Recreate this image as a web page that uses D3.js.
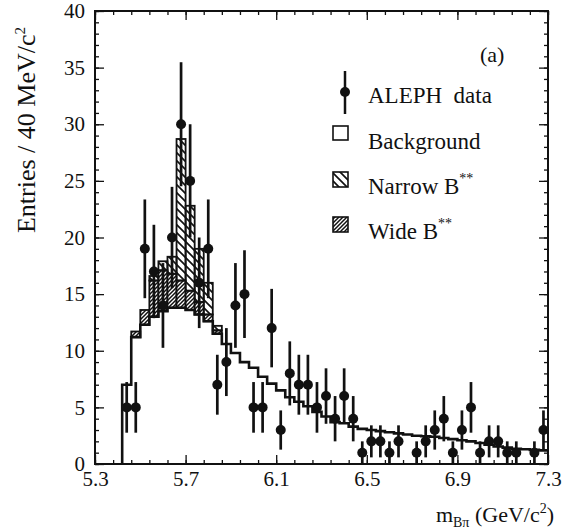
<!DOCTYPE html>
<html><head><meta charset="utf-8">
<script src="https://cdn.jsdelivr.net/npm/d3@7"></script>
<style>body{margin:0;background:#fff}text{font-family:"Liberation Serif","Times New Roman",serif;fill:#111}</style>
</head><body><svg id="c" width="564" height="531"></svg>
<script>
// ---- data (40 MeV bins, lower edges) ----
const binLow = [5.42,5.46,5.50,5.54,5.58,5.62,5.66,5.70,5.74,5.78,5.82,5.86,5.90,5.94,5.98,6.02,6.06,6.10,6.14,6.18,6.22,6.26,6.30,6.34,6.38,6.42,6.46,6.50,6.54,6.58,6.62,6.66,6.70,6.74,6.78,6.82,6.86,6.90,6.94,6.98,7.02,7.06,7.10,7.14,7.18,7.22,7.26];
const binWidth = 0.04;
const alephData = [5,5,19,17,14,20,30,25,16,19,7,9,14,15,5,5,12,3,8,7,7,5,6,4,6,4,1,2,2,1,2,null,1,2,3,4,1,3,5,1,2,2,1,1,null,1,3];
const background = [7.0,11.2,12.3,13.0,13.5,13.8,13.8,13.6,13.2,12.6,11.5,10.6,9.8,9.0,8.5,7.7,7.1,6.5,5.9,5.5,5.1,4.6,4.2,3.7,3.6,3.3,3.1,3.0,2.9,2.8,2.7,2.6,2.5,2.45,2.4,2.3,2.2,2.1,2.0,1.85,1.7,1.55,1.45,1.35,1.3,1.25,1.2];
const wideB = [0,0.5,1.3,3.2,3.6,3.0,2.4,1.7,1.1,0.6,0.3,0,0,0,0,0,0,0,0,0,0,0,0,0,0,0,0,0,0,0,0,0,0,0,0,0,0,0,0,0,0,0,0,0,0,0,0];
const narrowB = [0,0,0,0.4,0.8,1.5,12.5,7.5,4.7,2.8,0.4,0,0,0,0,0,0,0,0,0,0,0,0,0,0,0,0,0,0,0,0,0,0,0,0,0,0,0,0,0,0,0,0,0,0,0,0];
const xTickValues = [5.3,5.7,6.1,6.5,6.9,7.3];
const yTickValues = [0,5,10,15,20,25,30,35,40];

const svg = d3.select("#c");
const x = d3.scaleLinear().domain([5.3,7.3]).range([95,548]);
const y = d3.scaleLinear().domain([0,40]).range([464,11]);

// patterns
const defs = svg.append("defs");
const pn = defs.append("pattern").attr("id","narrow").attr("patternUnits","userSpaceOnUse").attr("width",8).attr("height",8);
pn.append("path").attr("d","M0,0L8,8M-3,5L3,11M5,-3L11,3").attr("stroke","#111").attr("stroke-width",1.7);
const pw = defs.append("pattern").attr("id","wide").attr("patternUnits","userSpaceOnUse").attr("width",4).attr("height",4);
pw.append("rect").attr("width",4).attr("height",4).attr("fill","#fff");
pw.append("path").attr("d","M0,4L4,0M-1,1L1,-1M3,5L5,3").attr("stroke","#111").attr("stroke-width",1.5);

const bins = binLow.map((lo,i)=>({lo, hi: lo+binWidth, bg: background[i], w: wideB[i], n: narrowB[i], d: alephData[i]}));

const g = svg.append("g");
// wide B** boxes
g.selectAll("rect.w").data(bins.filter(b=>b.w>0)).join("rect").attr("class","w")
  .attr("x",b=>x(b.lo)).attr("width",b=>x(b.hi)-x(b.lo))
  .attr("y",b=>y(b.bg+b.w)).attr("height",b=>y(b.bg)-y(b.bg+b.w))
  .attr("fill","url(#wide)").attr("stroke","#111").attr("stroke-width",1.8);
// narrow B** boxes
g.selectAll("rect.n").data(bins.filter(b=>b.n>0)).join("rect").attr("class","n")
  .attr("x",b=>x(b.lo)).attr("width",b=>x(b.hi)-x(b.lo))
  .attr("y",b=>y(b.bg+b.w+b.n)).attr("height",b=>y(b.bg+b.w)-y(b.bg+b.w+b.n))
  .attr("fill","url(#narrow)").attr("stroke","#111").attr("stroke-width",1.8);
// background step line
const stepPts = [[bins[0].lo,0]];
bins.forEach(b=>{stepPts.push([b.lo,b.bg]);stepPts.push([b.hi,b.bg]);});
g.append("path").attr("d",d3.line().x(p=>x(p[0])).y(p=>y(p[1]))(stepPts))
  .attr("fill","none").attr("stroke","#111").attr("stroke-width",2.6);

// data points
const pts = bins.filter(b=>b.d!==null);
g.selectAll("line.e").data(pts).join("line").attr("class","e")
  .attr("x1",b=>x(b.lo+binWidth/2)).attr("x2",b=>x(b.lo+binWidth/2))
  .attr("y1",b=>y(Math.max(0,b.d-Math.sqrt(b.d)))).attr("y2",b=>y(b.d+Math.sqrt(b.d)))
  .attr("stroke","#111").attr("stroke-width",2.7);
g.selectAll("circle.d").data(pts).join("circle").attr("class","d")
  .attr("cx",b=>x(b.lo+binWidth/2)).attr("cy",b=>y(b.d)).attr("r",5).attr("fill","#111");

// axes
const xMinor = d3.range(0,26).map(k=>+(5.3+k*0.08).toFixed(2));
const yMinor = d3.range(0,41);
const fs = "21px";
const ax = svg.append("g").attr("transform","translate(0,464)")
  .call(d3.axisBottom(x).tickValues(xTickValues).tickFormat(d3.format(".1f")).tickSizeInner(-9).tickSizeOuter(0).tickPadding(6));
ax.selectAll("text").style("font-size",fs).attr("dy","0.75em");
svg.append("g").attr("transform","translate(0,464)").call(d3.axisBottom(x).tickValues(xMinor).tickFormat("").tickSize(-4).tickSizeOuter(0));
svg.append("g").attr("transform","translate(0,11)").call(d3.axisTop(x).tickValues(xMinor).tickFormat("").tickSize(-4).tickSizeOuter(0));
svg.append("g").attr("transform","translate(0,11)").call(d3.axisTop(x).tickValues(xTickValues).tickFormat("").tickSize(-9).tickSizeOuter(0));
const ay = svg.append("g").attr("transform","translate(95,0)")
  .call(d3.axisLeft(y).tickValues(yTickValues).tickSizeInner(-9).tickSizeOuter(0).tickPadding(10));
ay.selectAll("text").style("font-size",fs);
svg.append("g").attr("transform","translate(95,0)").call(d3.axisLeft(y).tickValues(yMinor).tickFormat("").tickSize(-4).tickSizeOuter(0));
svg.append("g").attr("transform","translate(548,0)").call(d3.axisRight(y).tickValues(yMinor).tickFormat("").tickSize(-4).tickSizeOuter(0));
svg.append("g").attr("transform","translate(548,0)").call(d3.axisRight(y).tickValues(yTickValues).tickFormat("").tickSize(-9).tickSizeOuter(0));
svg.selectAll(".domain").remove();
svg.selectAll(".tick line").attr("stroke","#111").attr("stroke-width",1.3);
svg.append("rect").attr("x",95).attr("y",11).attr("width",453).attr("height",453)
  .attr("fill","none").attr("stroke","#111").attr("stroke-width",2);

// axis titles
const xt = svg.append("text").attr("x",554).attr("y",522).attr("text-anchor","end").style("font-size","22px");
xt.append("tspan").text("m");
xt.append("tspan").attr("dy",5).style("font-size","14px").text("Bπ");
xt.append("tspan").attr("dy",-5).text(" (GeV/c");
xt.append("tspan").attr("dy",-9).style("font-size","14px").text("2");
xt.append("tspan").attr("dy",9).text(")");

const yt = svg.append("text").attr("transform","translate(35,130) rotate(-90)").attr("text-anchor","middle").style("font-size","26px");
yt.append("tspan").text("Entries / 40 MeV/c");
yt.append("tspan").attr("dy",-10).style("font-size","15px").text("2");

// legend
svg.append("text").attr("x",480).attr("y",62).style("font-size","22px").text("(a)");
svg.append("line").attr("x1",345).attr("x2",345).attr("y1",71).attr("y2",114).attr("stroke","#111").attr("stroke-width",2.5);
svg.append("circle").attr("cx",345).attr("cy",92).attr("r",5).attr("fill","#111");
svg.append("text").attr("x",368).attr("y",103).style("font-size","23px").style("white-space","pre").text("ALEPH  data");
svg.append("rect").attr("x",333).attr("y",126).attr("width",15).attr("height",14).attr("fill","#fff").attr("stroke","#111").attr("stroke-width",1.6);
svg.append("text").attr("x",368).attr("y",149).style("font-size","23px").text("Background");
svg.append("rect").attr("x",333).attr("y",172).attr("width",15).attr("height",15).attr("fill","url(#narrow)").attr("stroke","#111").attr("stroke-width",1.6);
const tn = svg.append("text").attr("x",368).attr("y",194).style("font-size","23px");
tn.append("tspan").text("Narrow B");
tn.append("tspan").attr("dy",-11).style("font-size","14px").text("**");
svg.append("rect").attr("x",333).attr("y",217).attr("width",15).attr("height",15).attr("fill","url(#wide)").attr("stroke","#111").attr("stroke-width",1.6);
const tw = svg.append("text").attr("x",368).attr("y",239).style("font-size","23px");
tw.append("tspan").text("Wide B");
tw.append("tspan").attr("dy",-11).style("font-size","14px").text("**");
</script></body></html>
